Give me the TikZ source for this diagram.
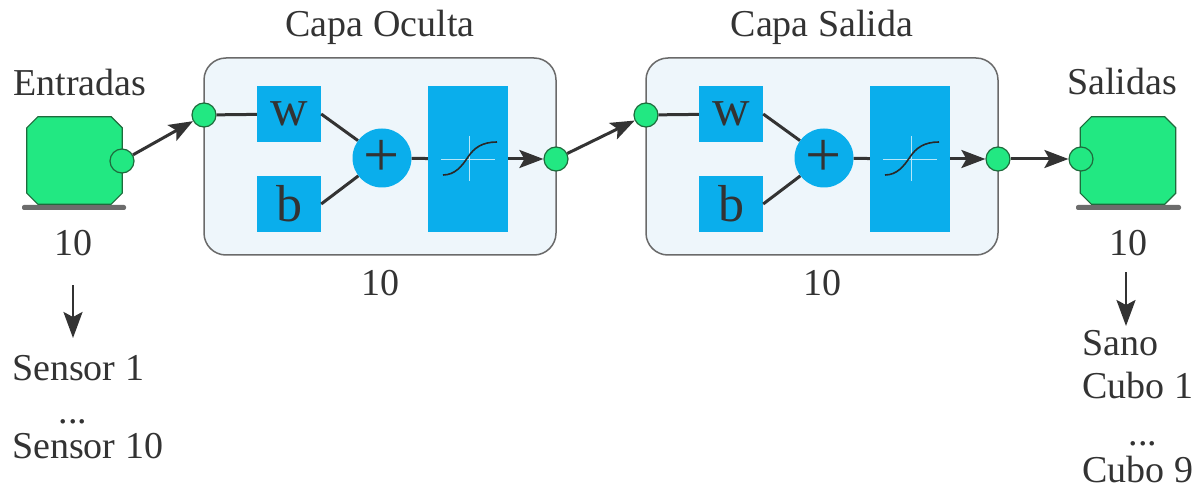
\documentclass[tikz,border=0pt]{standalone}
\usepackage{fontspec}
\setmainfont{Liberation Serif}
\usetikzlibrary{arrows.meta}
\definecolor{grn}{HTML}{22E882}
\definecolor{grnd}{HTML}{1E6B3C}
\definecolor{blu}{HTML}{0AAEEC}
\definecolor{lay}{HTML}{EEF6FB}
\definecolor{layd}{HTML}{6A6A6A}
\definecolor{ink}{HTML}{333333}
\tikzset{
  lbl/.style={text=ink,font=\fontsize{38}{40}\selectfont,anchor=base,inner sep=0},
  port/.style={circle,draw=grnd,fill=grn,line width=1.2pt,minimum size=24pt,inner sep=0},
  io/.style={rectangle,draw=none,minimum width=95pt,minimum height=87pt,inner sep=0},
  iofill/.style={draw=grnd,fill=grn,line width=1.2pt},
  layer/.style={rounded corners=22pt,draw=layd,fill=lay,line width=1.5pt},
  bbox/.style={fill=blu,inner sep=0,text=ink,font=\fontsize{52}{52}\selectfont},
  sumc/.style={circle,fill=blu,minimum size=59pt,inner sep=0,text=ink,font=\fontsize{64}{64}\selectfont},
  wire/.style={draw=ink,line width=3pt},
  arr/.style={draw=ink,line width=3pt,-{Stealth[length=24pt,width=18pt,inset=5pt]}},
  darr/.style={draw=ink,line width=2.6pt,-{Stealth[length=26pt,width=19pt,inset=5pt]}},
  shadowbar/.style={fill=gray!85!black,rounded corners=2pt},
}
\newcommand{\chamf}[1]{%
  \draw[iofill] ([xshift=11pt]#1.north west) -- ([xshift=-11pt]#1.north east)
   -- ([yshift=-11pt]#1.north east) -- ([yshift=11pt]#1.south east)
   -- ([xshift=-11pt]#1.south east) -- ([xshift=11pt]#1.south west)
   -- ([yshift=11pt]#1.south west) -- ([yshift=-11pt]#1.north west) -- cycle;}
\begin{document}
\begin{tikzpicture}[x=1pt,y=-1pt]
\useasboundingbox[fill=white] (0,0) rectangle (1197,489);
% input block
\fill[shadowbar] (22,205) rectangle (126,210);
\node[io] (inbox) at (74.5,160.5) {};
\chamf{inbox}
\node[port] (inp) at (122,161) {};
\node[lbl] (entr) at (80,96) {Entradas};
\node[lbl] (n10a) at (73,255) {10};
\coordinate (da1) at (73,285);
\coordinate (da2) at (73,338);
\draw[darr] (da1) -- (da2);
\node[lbl,anchor=base west] (s1) at (12,380) {Sensor 1};
\node[lbl] (sd) at (73,423) {...};
\node[lbl,anchor=base west] (s10) at (12,458) {Sensor 10};
% layers
\foreach \s/\nm/\ttl in {0/a/Capa Oculta,442/b/Capa Salida}{
  \begin{scope}[xshift=\s pt]
  \draw[layer] (204,58) rectangle (556,255);
  \node[lbl] (title\nm) at (380,37) {\ttl};
  \node[lbl] (num\nm) at (380,295) {10};
  \node[bbox,minimum width=64pt,minimum height=56pt] (w\nm) at (289,114) {w};
  \node[bbox,minimum width=64pt,minimum height=56pt] (b\nm) at (289,204) {b};
  \node[sumc] (p\nm) at (382,158) {+};
  \node[bbox,minimum width=80pt,minimum height=146pt] (t\nm) at (468,159) {};
  \draw[white!70!blu,line width=0.8pt] (441,159) -- (495,159) (469,136) -- (469,181);
  \draw[ink!80!black,line width=1.6pt] (443,175) .. controls (455,175) and (462,166) .. (468,157) .. controls (474,148) and (482,142) .. (497,142);
  \node[port] (pin\nm) at (204,115) {};
  \node[port] (pout\nm) at (556,159) {};
  \draw[wire] (pin\nm) -- (w\nm);
  \draw[wire] (w\nm.east) -- (p\nm);
  \draw[wire] (b\nm.east) -- (p\nm);
  \draw[wire] (p\nm) -- (t\nm);
  \draw[arr] (t\nm) -- (pout\nm);
  \end{scope}
}
\draw[arr] (inp) -- (pina);
\draw[arr] (pouta) -- (pinb);
% output block
\fill[shadowbar] (1076,205) rectangle (1181,210);
\node[io] (outbox) at (1128,160.5) {};
\chamf{outbox}
\node[port] (outp) at (1081,159) {};
\draw[arr] (poutb) -- (outp);
\node[lbl] (sal) at (1122,95) {Salidas};
\node[lbl] (n10d) at (1128,255) {10};
\coordinate (db1) at (1126,272);
\coordinate (db2) at (1126,326);
\draw[darr] (db1) -- (db2);
\node[lbl,anchor=base west] (sano) at (1082,355) {Sano};
\node[lbl,anchor=base west] (c1) at (1082,398) {Cubo 1};
\node[lbl] (cd) at (1143,445) {...};
\node[lbl,anchor=base west] (c9) at (1082,482) {Cubo 9};
\end{tikzpicture}
\end{document}
